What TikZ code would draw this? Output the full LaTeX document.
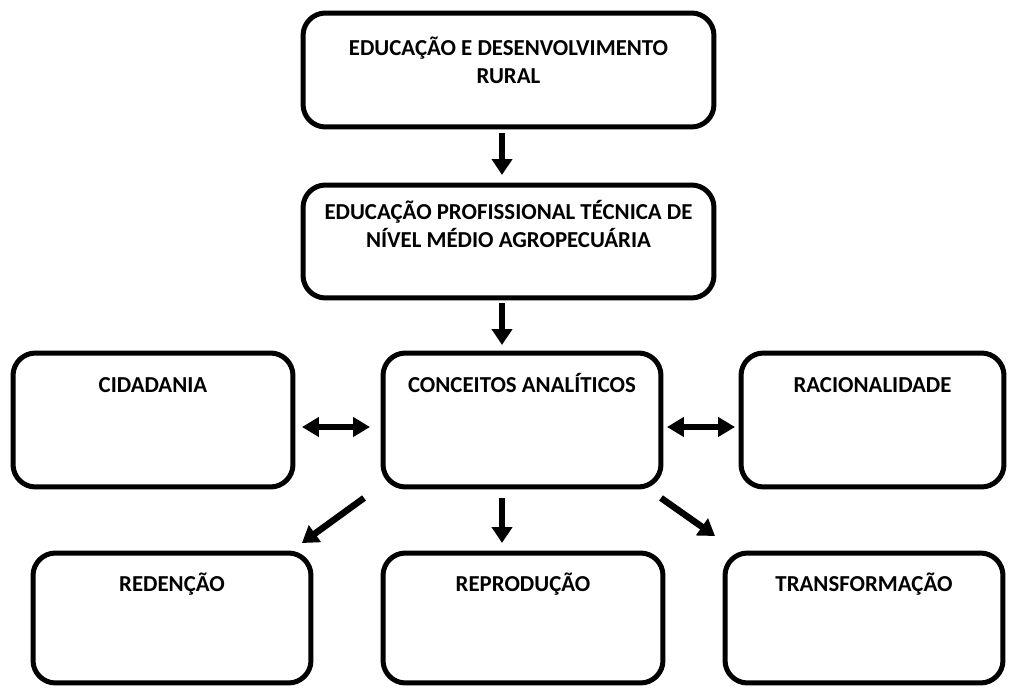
\documentclass[tikz,border=0pt]{standalone}
\usepackage{fontspec}
\setmainfont{Carlito}
\usetikzlibrary{arrows.meta, calc}

\begin{document}
\begin{tikzpicture}[x = 0.02cm, y = -0.02cm]
\tikzstyle{BoxStyle}=[
draw,
line width = 0.1cm,
rounded corners = 0.45cm,
inner sep = 0pt,
outer sep = 0pt]
\tikzstyle{TextStyle}=[
font = \fontsize{13}{16}\selectfont\bfseries,
align = center,
inner sep = 0pt,
anchor = base]
\tikzstyle{ArrowStyle}=[
line width = 0.13cm,
-{Triangle[length = 0.32cm, width = 0.4cm]}]
\tikzstyle{BothStyle}=[
line width = 0.13cm,
{Triangle[length = 0.34cm, width = 0.38cm]}-{Triangle[length = 0.34cm, width = 0.38cm]}]
\useasboundingbox (0,0) rectangle (1010,688);
% boxes
\node[BoxStyle, minimum width = 8.22cm, minimum height = 2.28cm,
  label = {[TextStyle, yshift = -1.41cm]north:EDUCAÇÃO E DESENVOLVIMENTO\\RURAL}] (edu) at (508.5,70) {};
\node[BoxStyle, minimum width = 8.22cm, minimum height = 2.26cm,
  label = {[TextStyle, yshift = -1.25cm]north:EDUCAÇÃO PROFISSIONAL TÉCNICA DE\\NÍVEL MÉDIO AGROPECUÁRIA}] (prof) at (508.5,241.5) {};
\node[BoxStyle, minimum width = 5.6cm, minimum height = 2.68cm,
  label = {[TextStyle, yshift = -0.79cm]north:CIDADANIA}] (cid) at (153,420) {};
\node[BoxStyle, minimum width = 5.56cm, minimum height = 2.68cm,
  label = {[TextStyle, yshift = -0.79cm]north:CONCEITOS ANALÍTICOS}] (conc) at (522,420) {};
\node[BoxStyle, minimum width = 5.26cm, minimum height = 2.68cm,
  label = {[TextStyle, yshift = -0.79cm]north:RACIONALIDADE}] (rac) at (872.5,420) {};
\node[BoxStyle, minimum width = 5.56cm, minimum height = 2.6cm,
  label = {[TextStyle, yshift = -0.77cm]north:REDENÇÃO}] (red) at (172,618) {};
\node[BoxStyle, minimum width = 5.6cm, minimum height = 2.6cm,
  label = {[TextStyle, yshift = -0.77cm]north:REPRODUÇÃO}] (rep) at (523,618) {};
\node[BoxStyle, minimum width = 5.56cm, minimum height = 2.6cm,
  label = {[TextStyle, yshift = -0.77cm]north:TRANSFORMAÇÃO}] (trans) at (864,618) {};
% arrows
\draw[ArrowStyle] ($(edu.south)+(-6.5,6)$) -- ($(prof.north)+(-6.5,-10)$);
\draw[ArrowStyle] ($(prof.south)+(-6.5,5)$) -- ($(conc.north)+(-20,-8)$);
\draw[BothStyle] ($(cid.east)+(9,7)$) -- ($(conc.west)+(-13,7)$);
\draw[BothStyle] ($(conc.east)+(6,7)$) -- ($(rac.west)+(-6,7)$);
\draw[ArrowStyle] ($(conc.south west)+(-19,11)$) -- ($(red.north east)+(-9,-10)$);
\draw[ArrowStyle] ($(conc.south)+(-20,11)$) -- ($(rep.north)+(-21,-10)$);
\draw[ArrowStyle] ($(conc.south east)+(0,11)$) -- ($(trans.north west)+(-10,-17)$);
\end{tikzpicture}
\end{document}
